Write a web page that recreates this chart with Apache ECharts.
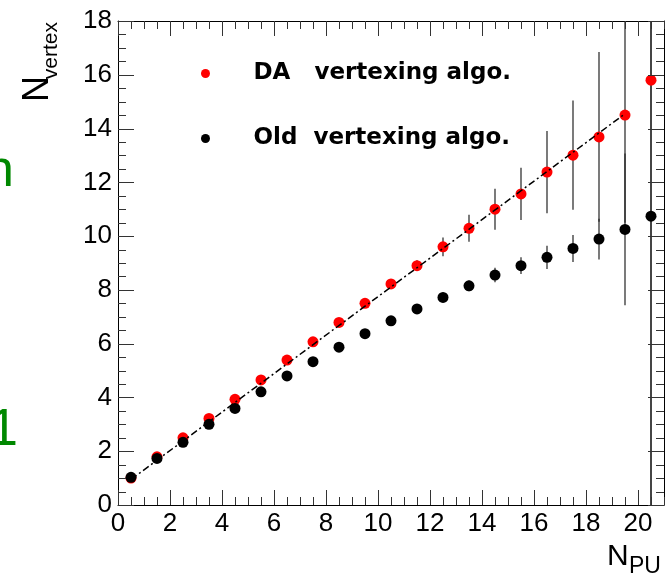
<!DOCTYPE html>
<html>
<head>
<meta charset="utf-8">
<script src="https://cdn.jsdelivr.net/npm/echarts@6/dist/echarts.min.js"></script>
<style>
  html, body { margin: 0; padding: 0; background: #fff; }
  #main { width: 668px; height: 579px; }
</style>
</head>
<body>
<div id="main"></div>
<script>
// N_PU bin centres
var npu = [0.5, 1.5, 2.5, 3.5, 4.5, 5.5, 6.5, 7.5, 8.5, 9.5, 10.5,
           11.5, 12.5, 13.5, 14.5, 15.5, 16.5, 17.5, 18.5, 19.5, 20.5];
// DA vertexing algo.
var daY   = [1.00, 1.79, 2.50, 3.22, 3.93, 4.65, 5.39, 6.07, 6.79, 7.50, 8.22,
             8.90, 9.60, 10.29, 11.00, 11.57, 12.38, 13.01, 13.69, 14.50, 15.80];
var daErr = [0.02, 0.02, 0.03, 0.04, 0.05, 0.06, 0.07, 0.08, 0.10, 0.12, 0.15,
             0.20, 0.35, 0.50, 0.76, 0.97, 1.53, 2.03, 3.16, 4.00, 16.0];
// Old vertexing algo.
var oldY   = [1.03, 1.73, 2.33, 3.00, 3.59, 4.21, 4.80, 5.33, 5.87, 6.37, 6.85,
              7.29, 7.72, 8.15, 8.55, 8.90, 9.21, 9.54, 9.89, 10.25, 10.74];
var oldErr = [0.02, 0.03, 0.04, 0.05, 0.06, 0.07, 0.08, 0.09, 0.10, 0.12, 0.14,
              0.16, 0.18, 0.20, 0.27, 0.31, 0.43, 0.50, 0.76, 2.82, 16.0];
// linear fit (dash-dot)
var fitX = [0.5, 19.5];
var fitY = [0.95, 14.55];

// axis ranges / tick steps
var xMin = 0, xMax = 21, xMajor = 2;
var yMin = 0, yMax = 18, yMajor = 2;
var minorStep = 0.5;

var daName = 'DA   vertexing algo.';
var oldName = 'Old  vertexing algo.';

var myChart = echarts.init(document.getElementById('main'));

function pts(xs, ys) {
    return xs.map(function (x, i) { return [x, ys[i]]; });
}
function errPts(xs, ys, es) {
    return xs.map(function (x, i) { return [x, ys[i], es[i]]; });
}
function errRender(params, api) {
    var x = api.value(0), y = api.value(1), e = api.value(2);
    var lo = api.coord([x, y - e]);
    var hi = api.coord([x, y + e]);
    return {
        type: 'line',
        shape: { x1: lo[0], y1: lo[1], x2: hi[0], y2: hi[1] },
        style: { stroke: '#222', lineWidth: 1.2 }
    };
}

// tick list: [value, isMajor]
function tickList(min, max, major) {
    var out = [];
    for (var v = min; v <= max + 1e-9; v += minorStep) {
        var isMajor = Math.abs(v / major - Math.round(v / major)) < 1e-9;
        out.push([v, isMajor ? 1 : 0]);
    }
    return out;
}
var xTicks = tickList(xMin, xMax, xMajor);
var yTicks = tickList(yMin, yMax, yMajor);

var labelFont = { fontSize: 26, color: '#000', fontFamily: 'Liberation Sans' };
var frameLine = { show: true, onZero: false, lineStyle: { color: '#000', width: 1 } };

var option = {
    animation: false,
    backgroundColor: '#fff',
    grid: { left: 118, top: 21, width: 546, height: 484, outerBoundsMode: 'none', containLabel: false },
    xAxis: [
        {
            type: 'value', min: xMin, max: xMax, interval: xMajor, position: 'bottom',
            axisLine: frameLine, axisTick: { show: false },
            axisLabel: Object.assign({ margin: 6, showMaxLabel: false }, labelFont),
            splitLine: { show: false }
        },
        {
            type: 'value', min: xMin, max: xMax, interval: xMajor, position: 'top',
            axisLine: frameLine, axisTick: { show: false }, axisLabel: { show: false },
            splitLine: { show: false }
        }
    ],
    yAxis: [
        {
            type: 'value', min: yMin, max: yMax, interval: yMajor, position: 'left',
            axisLine: frameLine, axisTick: { show: false },
            axisLabel: Object.assign({ margin: 6 }, labelFont),
            splitLine: { show: false }
        },
        {
            type: 'value', min: yMin, max: yMax, interval: yMajor, position: 'right',
            axisLine: frameLine, axisTick: { show: false }, axisLabel: { show: false },
            splitLine: { show: false }
        }
    ],
    legend: {
        orient: 'vertical',
        left: 196, top: 57,
        itemGap: 42,
        itemWidth: 86, itemHeight: 9,
        icon: 'circle',
        selectedMode: false,
        textStyle: { fontFamily: 'DejaVu Sans', fontWeight: 'bold', fontSize: 23, color: '#000' },
        data: [daName, oldName]
    },
    graphic: [
        { type: 'text', x: 51, y: 22, rotation: Math.PI / 2,
          style: { text: 'vertex', font: '21px "Liberation Sans"', fill: '#000', align: 'right', verticalAlign: 'middle' } },
        { type: 'text', x: 38, y: 76, rotation: Math.PI / 2,
          style: { text: 'N', font: '36px "Liberation Sans"', fill: '#000', align: 'right', verticalAlign: 'middle' } },
        { type: 'text', x: 607, y: 557,
          style: { text: 'N', font: '30px "Liberation Sans"', fill: '#000', align: 'left', verticalAlign: 'middle' } },
        { type: 'text', x: 629, y: 567,
          style: { text: 'PU', font: '23px "Liberation Sans"', fill: '#000', align: 'left', verticalAlign: 'middle' } },
        { type: 'text', x: 14, y: 172,
          style: { text: 'n', font: '52px "Liberation Sans"', fill: '#008800', align: 'right', verticalAlign: 'middle' } },
        { type: 'text', x: 18, y: 431,
          style: { text: '1', font: '52px "Liberation Sans"', fill: '#008800', align: 'right', verticalAlign: 'middle' } }
    ],
    series: [
        {
            type: 'custom', name: 'daErr', z: 1, clip: true,
            renderItem: errRender,
            encode: { x: 0, y: 1 },
            data: errPts(npu, daY, daErr)
        },
        {
            type: 'custom', name: 'oldErr', z: 1, clip: true,
            renderItem: errRender,
            encode: { x: 0, y: 1 },
            data: errPts(npu, oldY, oldErr)
        },
        {
            type: 'scatter', name: daName, z: 2,
            symbol: 'circle', symbolSize: 11,
            itemStyle: { color: '#ff0000', opacity: 1 },
            data: pts(npu, daY)
        },
        {
            type: 'line', name: 'fit', z: 3,
            symbol: 'none',
            lineStyle: { color: '#000', width: 1.5, type: [7, 3, 2, 3] },
            data: pts(fitX, fitY)
        },
        {
            type: 'scatter', name: oldName, z: 4,
            symbol: 'circle', symbolSize: 11,
            itemStyle: { color: '#000', opacity: 1 },
            data: pts(npu, oldY)
        }
    ]
};

option && myChart.setOption(option);

// ROOT style frame ticks on all four sides, pointing in; placed with the chart's own scales
var tickEls = [];
xTicks.forEach(function (t) {
    var len = t[1] ? 15 : 8;
    var b = myChart.convertToPixel({ xAxisIndex: 0, yAxisIndex: 0 }, [t[0], yMin]);
    var top = myChart.convertToPixel({ xAxisIndex: 0, yAxisIndex: 0 }, [t[0], yMax]);
    var x = Math.round(b[0]) + 0.5;
    tickEls.push({ type: 'rect', z: 100, silent: true, shape: { x: x - 0.5, y: b[1] - len, width: 1, height: len }, style: { fill: '#333' } });
    tickEls.push({ type: 'rect', z: 100, silent: true, shape: { x: x - 0.5, y: top[1], width: 1, height: len }, style: { fill: '#333' } });
});
yTicks.forEach(function (t) {
    var len = t[1] ? 16 : 8;
    var l = myChart.convertToPixel({ xAxisIndex: 0, yAxisIndex: 0 }, [xMin, t[0]]);
    var r = myChart.convertToPixel({ xAxisIndex: 0, yAxisIndex: 0 }, [xMax, t[0]]);
    var y = Math.round(l[1]) + 0.5;
    tickEls.push({ type: 'rect', z: 100, silent: true, shape: { x: l[0], y: y - 0.5, width: len, height: 1 }, style: { fill: '#333' } });
    tickEls.push({ type: 'rect', z: 100, silent: true, shape: { x: r[0] - len, y: y - 0.5, width: len, height: 1 }, style: { fill: '#333' } });
});
myChart.setOption({ graphic: option.graphic.concat(tickEls) });
</script>
</body>
</html>
